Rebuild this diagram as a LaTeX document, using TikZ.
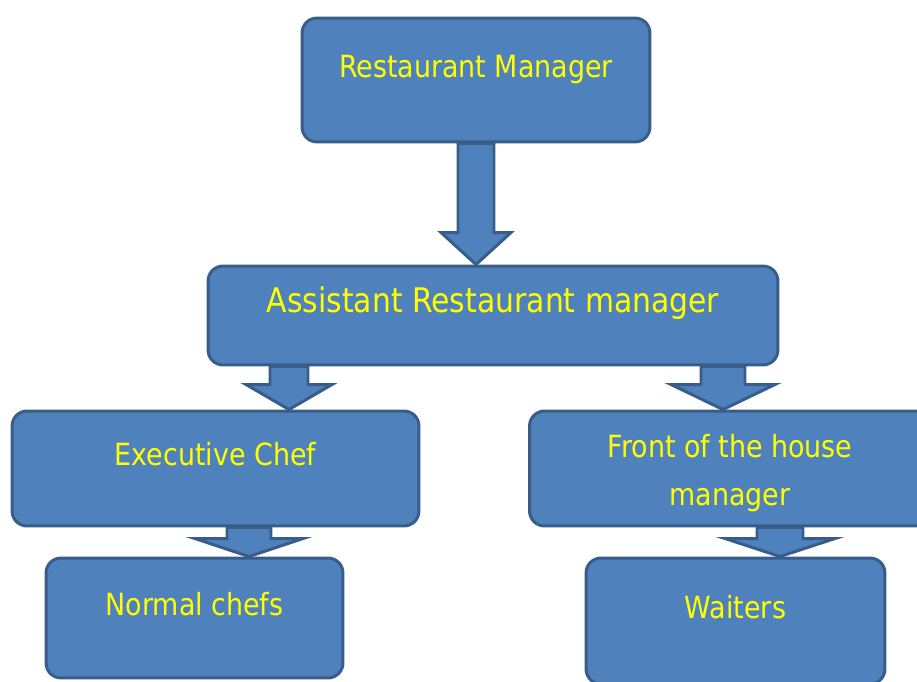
\documentclass[tikz,border=0pt]{standalone}
\usepackage{fontspec}
\setmainfont{DejaVu Sans}[FakeStretch=0.88]
\usepackage{tikz}
\usetikzlibrary{calc,backgrounds}

\definecolor{boxfill}{HTML}{4F81BD}
\definecolor{boxline}{HTML}{385D8A}
\definecolor{boxtext}{HTML}{FFFF00}

\tikzset{
  orgbox/.style={draw=boxline, fill=boxfill, line width=1.7pt, rounded corners=0.3cm,
    text=boxtext, font=\fontsize{17.4}{20.5}\selectfont, align=center,
    text height=13pt, text depth=16pt},
  arrowbody/.style={draw=boxline, fill=boxfill, line width=1.7pt, line join=miter}
}

% #1 x, #2 from, #3 to, #4 shaft half width, #5 head half width, #6 head length
\newcommand{\blockarrow}[6]{%
  \draw[arrowbody] (#1-#4,0 |- #2.south) -- ($(#1-#4,0 |- #3.north)+(0,-#6)$)
    -- ($(#1-#5,0 |- #3.north)+(0,-#6)$) -- (#1,0 |- #3.north)
    -- ($(#1+#5,0 |- #3.north)+(0,-#6)$) -- ($(#1+#4,0 |- #3.north)+(0,-#6)$)
    -- (#1+#4,0 |- #2.south) -- cycle;}

\begin{document}
\begin{tikzpicture}[x=0.02cm, y=-0.02cm]
    \useasboundingbox (0,0) rectangle (917,682);

    \node[orgbox, minimum width=6.96cm, minimum height=2.48cm] (rm) at (476,80) {Restaurant Manager};
    \node[orgbox, minimum width=11.4cm, minimum height=1.98cm, font=\fontsize{19.3}{23}\selectfont] (arm) at (493,315.5) {Assistant Restaurant manager};
    \node[orgbox, minimum width=8.14cm, minimum height=2.3cm] (chef) at (215.5,468.5) {Executive Chef};
    \node[orgbox, minimum width=8.02cm, minimum height=2.3cm, text height=, text depth=] (front) at (730,468.5) {\rule{0pt}{18.4pt}Front of the house\\[7pt]manager};
    \node[orgbox, minimum width=5.94cm, minimum height=2.4cm] (normal) at (194.5,618) {Normal chefs};
    \node[orgbox, minimum width=5.98cm, minimum height=2.52cm] (waiters) at (735.5,621) {Waiters};

    \begin{scope}[on background layer]
      \blockarrow{476}{rm}{arm}{18}{35}{32}
      \blockarrow{289}{arm}{chef}{19}{43}{25}
      \blockarrow{723}{arm}{front}{22}{52}{25}
      \blockarrow{249}{chef}{normal}{22}{54}{18}
      \blockarrow{780}{front}{waiters}{23}{55}{18}
    \end{scope}
\end{tikzpicture}
\end{document}
